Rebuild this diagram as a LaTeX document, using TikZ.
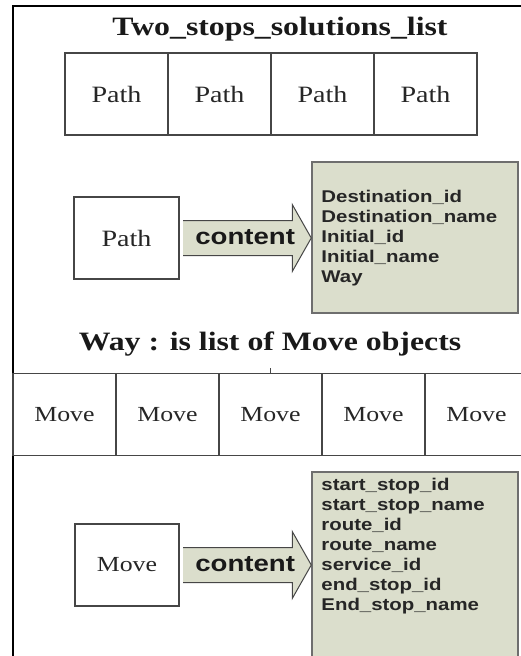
\documentclass[tikz,border=0pt]{standalone}
\usepackage{fontspec}
\setmainfont{Liberation Serif}
\setsansfont{Liberation Sans}
\usepackage{graphicx}
\usetikzlibrary{calc}
\definecolor{attrgreen}{RGB}{219,222,204}
\definecolor{boxgray}{RGB}{70,70,70}
\definecolor{edgegray}{RGB}{110,110,110}
\newcommand{\wtext}[1]{\scalebox{1.2}[1]{#1}} % the lettering is a bit wide

\begin{document}
\begin{tikzpicture}[x=1pt,y=-1pt]
\tikzstyle{cell} = [draw=boxgray, line width=1.2pt, minimum width=103pt, minimum height=82pt, inner sep=0pt, outer sep=0pt, text=black!85] % one list item
\tikzstyle{title} = [inner sep=0pt, font=\fontsize{26.5}{30}\selectfont\bfseries, text=black!90] % heading over a list
\tikzstyle{attrbox} = [draw=edgegray, fill=attrgreen, line width=1.5pt, inner sep=0pt] % fields box
\tikzstyle{attrtext} = [inner sep=0pt, font=\fontsize{17}{20}\selectfont\sffamily\bfseries, text=black!85]
\tikzstyle{contentarrow} = [fill=attrgreen, draw=boxgray, line width=1pt, line join=miter]
\tikzstyle{contentlabel} = [inner sep=0pt, font=\fontsize{23}{26}\selectfont\sffamily\bfseries, text=black!90]

\useasboundingbox (0,0) rectangle (521,656);
\clip (0,0) rectangle (521,656);

% frame
\draw[line width=2pt] (13,660) -- (13,6) -- (525,6);

% Two_stops_solutions_list
\node[title, anchor=base] (title1) at (280,35) {\wtext{Two\_stops\_solutions\_list}};
\foreach \i in {1,...,4}
  \node[cell, font=\fontsize{23.4}{28}\selectfont] (p\i) at ({13.5+103*\i},94) {\wtext{Path}};

% Path -> content
\node[cell, minimum width=105pt, font=\fontsize{23.4}{28}\selectfont] (pbox) at (126.5,238) {\wtext{Path}};
\node[attrbox, minimum width=206pt, minimum height=151pt] (abox1) at (415,237.5) {};
\node[attrtext, anchor=north west] (alist1) at ($(abox1.north west)+(10,27)$) {\wtext{\begin{tabular}{@{}l@{}}
Destination\_id\\
Destination\_name\\
Initial\_id\\
Initial\_name\\
Way
\end{tabular}}};
\coordinate (tip1) at (pbox.east -| abox1.west);
\path[contentarrow] ($(pbox.east)+(4,-17.5)$) -- ($(tip1)+(-19,-17.5)$) -- ($(tip1)+(-19,-33.5)$) -- (tip1)
  -- ($(tip1)+(-19,33.5)$) -- ($(tip1)+(-19,17.5)$) -- ($(pbox.east)+(4,17.5)$);
\node[contentlabel, anchor=base] (c1) at ($($(pbox.east)!0.5!(tip1)$)+(0,6.5)$) {\wtext{content}};

% Way : list of Move
\node[title, anchor=base] (title2) at (270,350) {\wtext{Way : is list of Move objects}};
\foreach \i in {1,...,5}
  \node[cell, font=\fontsize{21.5}{26}\selectfont] (m\i) at ({-38.5+103*\i},414.5) {\wtext{Move}};
\draw[boxgray, line width=1pt] (m3.north) -- ++(0,-6);

% Move -> content
\node[cell, minimum width=104pt, font=\fontsize{21.5}{26}\selectfont] (mbox) at (127,565) {\wtext{Move}};
\node[attrbox, minimum width=206pt, minimum height=228pt] (abox2) at (415,586) {};
\node[attrtext, anchor=north west] (alist2) at ($(abox2.north west)+(10,5)$) {\wtext{\begin{tabular}{@{}l@{}}
start\_stop\_id\\
start\_stop\_name\\
route\_id\\
route\_name\\
service\_id\\
end\_stop\_id\\
End\_stop\_name
\end{tabular}}};
\coordinate (tip2) at (mbox.east -| abox2.west);
\path[contentarrow] ($(mbox.east)+(4,-17.5)$) -- ($(tip2)+(-19,-17.5)$) -- ($(tip2)+(-19,-33.5)$) -- (tip2)
  -- ($(tip2)+(-19,33.5)$) -- ($(tip2)+(-19,17.5)$) -- ($(mbox.east)+(4,17.5)$);
\node[contentlabel, anchor=base] (c2) at ($($(mbox.east)!0.5!(tip2)$)+(0,6.5)$) {\wtext{content}};
\end{tikzpicture}
\end{document}
